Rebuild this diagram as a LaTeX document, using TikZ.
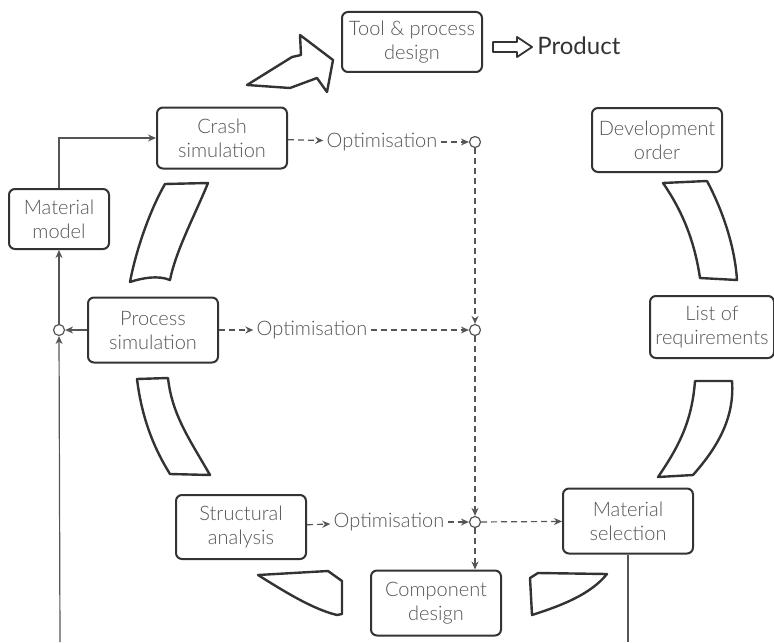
\documentclass[tikz,border=0pt]{standalone}
\usepackage{fontspec}
\setmainfont{Lato Light}
\newfontfamily\prodfont{Lato}
\usetikzlibrary{arrows.meta}
\definecolor{ink}{HTML}{333333}
\definecolor{txt}{HTML}{555555}
\definecolor{wire}{HTML}{555555}
\begin{document}
\begin{tikzpicture}[x=0.5pt, y=-0.5pt,
    box/.style={draw=ink, line width=1pt, rounded corners=3pt, align=center, text=txt,
        font=\fontsize{10}{12}\selectfont, inner sep=0pt, minimum width=65pt, minimum height=31pt},
    opt/.style={text=txt, font=\fontsize{10}{12}\selectfont, inner sep=1.5pt},
    junc/.style={circle, draw=wire, fill=white, line width=0.6pt, inner sep=0pt, minimum size=5.5pt},
    band/.style={draw=ink, line width=1.2pt, line join=round},
    flow/.style={draw=wire, line width=0.6pt, -{Stealth[length=4pt, width=3.5pt]}},
    optflow/.style={flow, dash pattern=on 3pt off 2pt}]
    \useasboundingbox (0, 0) rectangle (774, 642);
    % boxes
    \node[box, minimum width=70pt, minimum height=30pt] (tool) at (412, 42) {Tool \& process\\design};
    \node[box, minimum height=30.5pt] (crash) at (222, 138) {Crash\\simulation};
    \node[box, minimum width=50pt, minimum height=30pt] (matmodel) at (59, 219) {Material\\model};
    \node[box, minimum height=32.5pt] (process) at (153, 330) {Process\\simulation};
    \node[box, minimum height=32pt] (struct) at (241, 527) {Structural\\analysis};
    \node[box, minimum height=32.5pt] (comp) at (436, 603) {Component\\design};
    \node[box, minimum height=32.5pt] (matsel) at (628, 521) {Material\\selection};
    \node[box, minimum width=62pt, minimum height=31pt] (list) at (712, 327) {List of\\requirements};
    \node[box, minimum width=65pt, minimum height=32pt] (devel) at (657, 140) {Development\\order};
    \node[text=ink, font=\prodfont\fontsize{12}{14}\selectfont, inner sep=0pt, anchor=west] (product) at (537, 46) {Product};
    % optimisation loop
    \node[opt] (opt1) at (382, 142) {Optimisation};
    \node[opt] (opt2) at (312, 330) {Optimisation};
    \node[opt] (opt3) at (389, 522) {Optimisation};
    \node[junc] (c1) at (475, 142) {};
    \node[junc] (c2) at (475, 330) {};
    \node[junc] (c3) at (475, 522) {};
    \node[junc] (cl) at (59, 330) {};
    \coordinate (feed) at (60, 642);
    \coordinate (out) at (628, 642);
    \draw[optflow] (crash) -- (opt1);
    \draw[optflow] (opt1) -- (c1);
    \draw[optflow] (c1) -- (c2);
    \draw[optflow] (process) -- (opt2);
    \draw[optflow] (opt2) -- (c2);
    \draw[optflow] (c2) -- (c3);
    \draw[optflow] (struct) -- (opt3);
    \draw[optflow] (opt3) -- (c3);
    \draw[optflow] (c3) -- (matsel);
    \draw[optflow] (c3) -- (c3 |- comp.north);
    % material data
    \draw[flow] (process) -- (cl);
    \draw[flow] (cl) -- (matmodel);
    \draw[flow] (feed) -- (cl);
    \draw[flow] (matmodel) |- (crash);
    \draw[draw=wire, line width=0.6pt] (matsel) -- (out);
    % cycle bands
    \draw[band] (165, 184) -- (208, 183) .. controls (195, 215) and (176, 250) .. (170, 280)
        .. controls (158, 275) and (142, 278) .. (130, 282) .. controls (136, 250) and (150, 210) .. (165, 184) -- cycle;
    \draw[band] (137, 379) -- (168, 378) .. controls (172, 415) and (190, 440) .. (210, 475)
        -- (170, 474) .. controls (155, 450) and (142, 420) .. (137, 379) -- cycle;
    \draw[band] (258, 575) -- (328, 571) -- (342, 581) -- (342, 614) -- (337, 615)
        .. controls (312, 609) and (282, 590) .. (258, 575) -- cycle;
    \draw[band] (530, 578) -- (538, 573) -- (607, 574) .. controls (590, 595) and (560, 606) .. (532, 615) -- cycle;
    \draw[band] (695, 381) -- (732, 381) .. controls (735, 420) and (715, 450) .. (693, 475)
        -- (658, 477) .. controls (680, 445) and (692, 420) .. (695, 381) -- cycle;
    \draw[band] (663, 183) -- (707, 181) .. controls (725, 215) and (735, 250) .. (737, 280)
        -- (700, 278) .. controls (695, 245) and (685, 215) .. (663, 183) -- cycle;
    % big arrow into tool design
    \draw[band] (247, 85) -- (292, 57) -- (301, 55) -- (300, 35) -- (333, 60) -- (327, 92) -- (317, 78)
        -- (290, 88) -- cycle;
    % hollow arrow to product
    \draw[draw=ink, line width=0.9pt, line join=round] (493, 42) -- (517, 42) -- (517, 37) -- (532, 47)
        -- (517, 57) -- (517, 52) -- (493, 52) -- cycle;
\end{tikzpicture}
\end{document}
